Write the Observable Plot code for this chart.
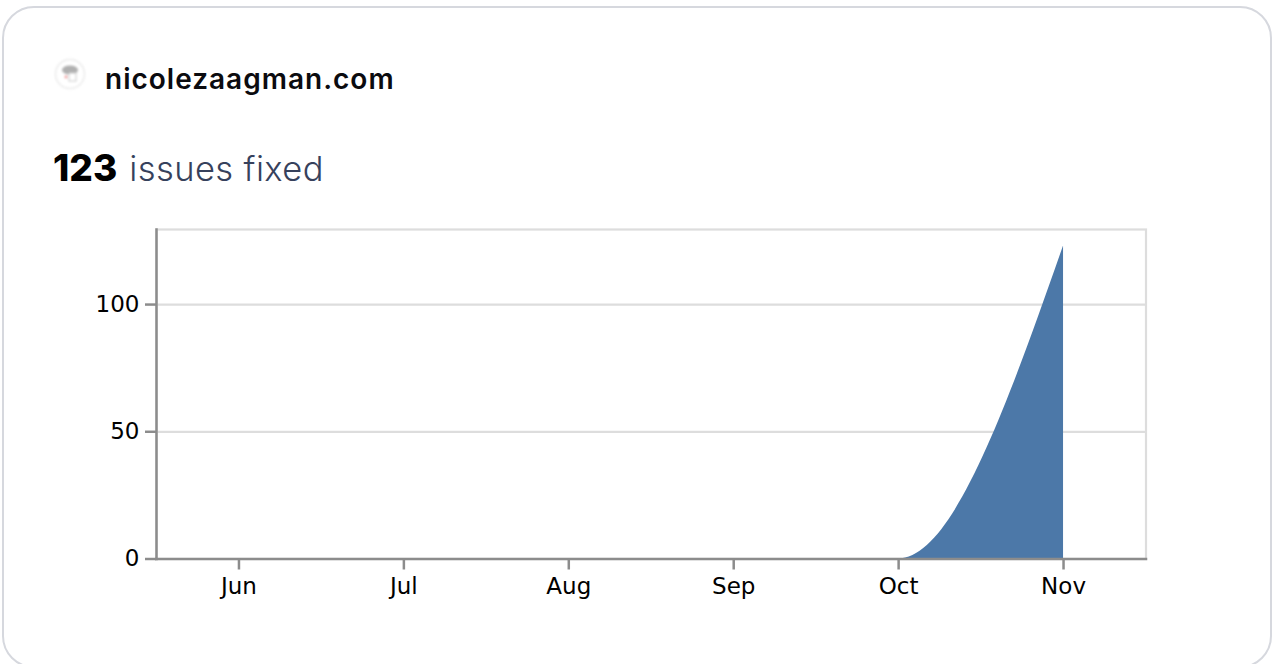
<!DOCTYPE html>
<html>
<head>
<meta charset="utf-8">
<script src="https://cdn.jsdelivr.net/npm/d3@7"></script>
<script src="https://cdn.jsdelivr.net/npm/@observablehq/plot@0.6"></script>
<style>
html,body{margin:0;padding:0;background:#fff;width:1273px;height:664px;overflow:hidden}
#card{position:absolute;left:2px;top:6px;width:1266px;height:658px;border:2px solid #d6d8de;border-radius:32px;box-sizing:content-box}
#icon{position:absolute;left:54px;top:58px;width:32px;height:32px;filter:blur(1px)}
#site{position:absolute;left:105px;top:61px;font:600 28px/36px Inter,sans-serif;letter-spacing:1px;color:#0b0b0f;white-space:nowrap}
#count{position:absolute;left:53px;top:145px;font:300 34.5px/46px Inter,sans-serif;letter-spacing:.4px;color:#36415c;white-space:nowrap}
#count b{color:#000;font-weight:800;font-size:37px;margin-right:2px;letter-spacing:0}
#chart{position:absolute;left:0;top:200px}
#chart svg{display:block;background:transparent}
</style>
</head>
<body>
<div id="card"></div>
<svg id="icon" viewBox="0 0 32 32"><circle cx="16" cy="16" r="14.5" fill="#fff" stroke="#ebebeb" stroke-width="1.5"/><ellipse cx="16" cy="12" rx="8" ry="4.5" fill="#b0b0b0"/><rect x="15" y="15" width="7" height="8" fill="#fff" stroke="#ccc"/><circle cx="12" cy="19" r="1.4" fill="#ee9a9a"/></svg>
<div id="site">nicolezaagman.com</div>
<div id="count"><b>123</b> issues fixed</div>
<div id="chart"></div>
<script>
const months = ["Jun", "Jul", "Aug", "Sep", "Oct", "Nov"];
const issuesFixed = [0, 0, 0, 0, 0, 123];
const yTicks = [0, 50, 100];
const yTop = 129.5;
const rows = months.map((month, i) => ({month, value: issuesFixed[i]}));
const axisColor = "#8c8c8c";
const gridColor = "#dddddd";
const tickFont = "DejaVu Sans";

const chart = Plot.plot({
  width: 1273,
  height: 410,
  marginLeft: 156,
  marginRight: 127.5,
  marginTop: 29,
  marginBottom: 51.5,
  style: {background: "transparent", overflow: "visible"},
  x: {type: "point", domain: months, padding: 0.5, round: false},
  y: {domain: [0, yTop]},
  marks: [
    Plot.frame({stroke: gridColor, strokeWidth: 2.2}),
    Plot.ruleY(yTicks, {stroke: gridColor, strokeWidth: 2.2}),
    Plot.areaY(rows, {x: "month", y: "value", fill: "#4c78a8", curve: "monotone-x"}),
    Plot.frame({anchor: "left", stroke: axisColor, strokeWidth: 2.5}),
    Plot.frame({anchor: "bottom", stroke: axisColor, strokeWidth: 2.5}),
    Plot.axisX({tickSize: 11, tickPadding: 8, stroke: axisColor, strokeWidth: 2.5, strokeOpacity: 1,
      fontSize: 23, fontFamily: tickFont, fill: "#000", label: null}),
    Plot.axisY({ticks: yTicks, tickSize: 11, tickPadding: 6, stroke: axisColor, strokeWidth: 2.5, strokeOpacity: 1,
      fontSize: 23, fontFamily: tickFont, fill: "#000", label: null})
  ]
});
document.getElementById("chart").appendChild(chart);
</script>
</body>
</html>
